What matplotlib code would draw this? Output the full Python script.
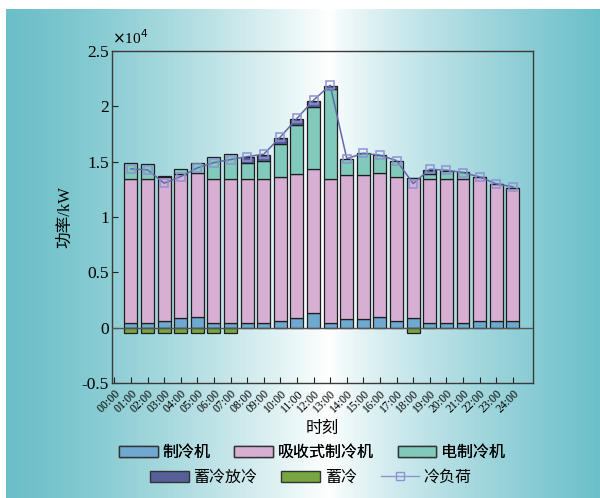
import numpy as np
import matplotlib
matplotlib.use("Agg")
import matplotlib.pyplot as plt
from matplotlib.patches import Patch
from matplotlib.lines import Line2D
from matplotlib.ticker import FuncFormatter

plt.rcParams["font.family"] = ["Liberation Serif", "Noto Sans CJK SC"]
plt.rcParams["axes.unicode_minus"] = False

# Hourly cooling supply (kW), hours 01:00 .. 24:00
hours = np.arange(1, 25)
tick_labels = [f"{h:02d}:00" for h in range(25)]

chiller = [450, 450, 650, 850, 1000, 450, 450, 450, 450, 650, 850, 1300,
           450, 800, 800, 1000, 650, 850, 450, 450, 450, 650, 650, 650]
absorption = [13000, 13000, 13000, 13000, 13000, 13000, 13000, 13000, 13000, 13000, 13000, 13000,
              13000, 13000, 13000, 13000, 13000, 12650, 13000, 13000, 13000, 13000, 12300, 12000]
electric = [1410, 1320, 50, 450, 900, 2000, 2250, 1400, 1620, 2910, 4460, 5600,
            8060, 1470, 1950, 1620, 1440, 0, 420, 660, 570, 0, 0, 0]
discharge = [0, 0, 0, 0, 0, 0, 0, 600, 510, 570, 570, 570,
             330, 0, 0, 0, 0, 0, 390, 0, 0, 0, 0, 0]
charge = [-500, -500, -500, -500, -500, -500, -500, 0, 0, 0, 0, 0,
          0, 0, 0, 0, 0, -500, 0, 0, 0, 0, 0, 0]
load = [14340, 14250, 13050, 13650, 14430, 14910, 15180, 15450, 15660, 17220, 18890, 20540,
        21890, 15270, 15750, 15570, 15090, 13020, 14310, 14220, 14010, 13620, 12990, 12720]

c_chiller = "#6fa9d0"
c_absorb = "#d6afd3"
c_electric = "#80c9bb"
c_discharge = "#565f97"
c_charge = "#77a53f"
c_line = "#5f6aa8"
c_marker = "#8f92d2"

fig = plt.figure(figsize=(6, 4.98), dpi=100)
fig.patch.set_facecolor("white")

# teal-white-teal backdrop
bg = fig.add_axes([6 / 600, 0, 594 / 600, 489 / 498], zorder=-10)
xs = np.linspace(6, 600, 600)
left_c = np.array([108, 191, 200]) / 255
mid_c = np.array([255, 255, 255]) / 255
right_c = np.array([107, 191, 201]) / 255
t_left = np.clip((xs - 6) / (330 - 6), 0, 1)[:, None]
t_right = np.clip((xs - 330) / (600 - 330), 0, 1)[:, None]
cols = np.where(xs[:, None] <= 330,
                left_c + (mid_c - left_c) * t_left ** 1.3,
                mid_c + (right_c - mid_c) * t_right ** 0.8)
bg.imshow(cols[None, :, :], aspect="auto", extent=[0, 1, 0, 1])
bg.set_axis_off()

ax = fig.add_axes([111.7 / 600, 1 - 383.3 / 498, 421 / 600, 332.6 / 498])
ax.patch.set_alpha(0)

w = 0.78
bar_kw = dict(width=w, edgecolor="#1e1e1e", linewidth=0.9, zorder=3)
chiller = np.array(chiller)
absorption = np.array(absorption)
electric = np.array(electric)
discharge = np.array(discharge)

ax.bar(hours, chiller, color=c_chiller, **bar_kw)
ax.bar(hours, absorption, bottom=chiller, color=c_absorb, **bar_kw)
b2 = chiller + absorption
ax.bar(hours, electric, bottom=b2, color=c_electric, **bar_kw)
b3 = b2 + electric
mask = discharge > 0
ax.bar(hours[mask], discharge[mask], bottom=b3[mask], color=c_discharge, **bar_kw)
charge = np.array(charge)
mask = charge < 0
ax.bar(hours[mask], charge[mask], color=c_charge, **bar_kw)

ax.axhline(0, color="#555555", linewidth=1.0, zorder=4)

ax.plot(hours, load, color=c_line, linewidth=1.1, marker="s", markersize=5.5,
        markerfacecolor="none", markeredgecolor=c_marker, markeredgewidth=1.1, zorder=5)

ax.set_xlim(-0.16, 25.2)
ax.set_ylim(-5000, 25000)
ax.set_xticks(np.arange(25))
ax.set_xticklabels(tick_labels, rotation=45, ha="right", rotation_mode="anchor", fontsize=8.5)
ax.set_yticks(np.arange(-5000, 25001, 5000))
ax.yaxis.set_major_formatter(FuncFormatter(lambda v, p: f"{v / 1e4:g}"))
ax.tick_params(axis="both", direction="in", length=4, width=0.8, color="#222222")
ax.tick_params(axis="y", labelsize=12.5, pad=2)
ax.tick_params(axis="x", pad=3)
for s in ax.spines.values():
    s.set_color("#3a3a3a")
    s.set_linewidth(1.0)

ax.text(0.0, 1.01, r"$\times$10$^4$", transform=ax.transAxes, fontsize=11, va="bottom", ha="left")
ax.set_ylabel("功率/kW", fontsize=12, labelpad=6)
ax.set_xlabel("时刻", fontsize=12, labelpad=4)

# legend in two rows
row1 = [Patch(facecolor=c_chiller, edgecolor="#333333", label="制冷机"),
        Patch(facecolor=c_absorb, edgecolor="#333333", label="吸收式制冷机"),
        Patch(facecolor=c_electric, edgecolor="#333333", label="电制冷机")]
row2 = [Patch(facecolor=c_discharge, edgecolor="#333333", label="蓄冷放冷"),
        Patch(facecolor=c_charge, edgecolor="#333333", label="蓄冷"),
        Line2D([0], [0], color=c_marker, linewidth=1.0, marker="s", markersize=6,
               markerfacecolor="none", markeredgecolor=c_marker, label="冷负荷")]
leg_kw = dict(ncol=3, frameon=False, fontsize=11.5, handlelength=2.4, handleheight=0.75,
              handletextpad=0.3, columnspacing=1.5, loc="center")
leg1 = fig.legend(handles=row1, bbox_to_anchor=(312 / 600, 1 - 453 / 498), **leg_kw)
fig.add_artist(leg1)
fig.legend(handles=row2, bbox_to_anchor=(311 / 600, 1 - 478 / 498), **leg_kw)

fig.savefig("out.png", dpi=100)
